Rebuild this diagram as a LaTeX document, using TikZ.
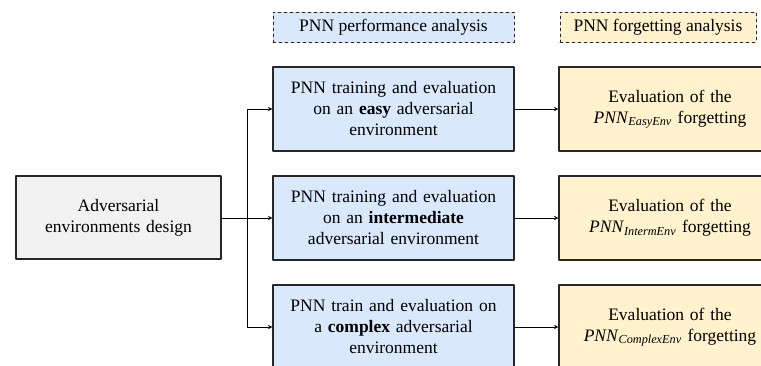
\documentclass[tikz,border=0pt]{standalone}
\usepackage{fontspec}
\setmainfont{Liberation Serif}
\definecolor{bluebox}{HTML}{DAE8FC}
\definecolor{yellowbox}{HTML}{FFF2CC}
\definecolor{greybox}{HTML}{F2F2F2}
\newcommand{\pnnenv}[1]{\textit{PNN}\textsubscript{\textit{#1}}}
\begin{document}
\begin{tikzpicture}[x=1pt, y=-1pt, line cap=round, line join=round, >=stealth, font=\fontsize{17.5}{21}\selectfont]
			\tikzset{box style/.style={draw=black!85, line width=1.2pt, align=center, minimum width=241pt, minimum height=84pt, text width=234pt, inner sep=0pt},
				forg style/.style={box style, fill=yellowbox, minimum width=222pt, text width=215pt},
				head style/.style={draw=black!85, dashed, line width=0.8pt, minimum height=30pt, inner sep=0pt}}
			\clip (0,0) rectangle (761,365);
			\useasboundingbox (0,0) rectangle (761,365);
			% headers
			\node[head style, fill=bluebox, minimum width=241pt] (perfhead) at (393.5,27) {PNN performance analysis};
			\node[head style, fill=yellowbox, minimum width=196pt] (forghead) at (658,27) {PNN forgetting analysis};
			% design box
			\node[box style, fill=greybox, minimum width=205pt, minimum height=83pt, text width=195pt] (design) at (118.5,217.5) {Adversarial\\environments design};
			% training boxes
			\node[box style, fill=bluebox] (easy) at (393.5,109) {PNN training and evaluation\\on an \textbf{easy} adversarial\\environment};
			\node[box style, fill=bluebox] (interm) at (393.5,218) {PNN training and evaluation\\on an \textbf{intermediate}\\adversarial environment};
			\node[box style, fill=bluebox] (complex) at (393.5,327) {PNN train and evaluation on\\a \textbf{complex} adversarial\\environment};
			% forgetting boxes (cut off at the right edge)
			\node[forg style] (easyforg) at (670,109) {Evaluation of the\\\pnnenv{EasyEnv} forgetting};
			\node[forg style] (intermforg) at (670,218) {Evaluation of the\\\pnnenv{IntermEnv} forgetting};
			\node[forg style] (complexforg) at (670,327) {Evaluation of the\\\pnnenv{ComplexEnv} forgetting};
			% connectors
			\coordinate (split) at (247,218);
			\draw[->, line width=1pt] (design.east |- interm.west) -- (interm.west);
			\draw[->, line width=1pt] (split) |- (easy.west);
			\draw[->, line width=1pt] (split) |- (complex.west);
			\draw[->, line width=1pt] (easy.east) -- (easyforg.west);
			\draw[->, line width=1pt] (interm.east) -- (intermforg.west);
			\draw[->, line width=1pt] (complex.east) -- (complexforg.west);
		\end{tikzpicture}
\end{document}
